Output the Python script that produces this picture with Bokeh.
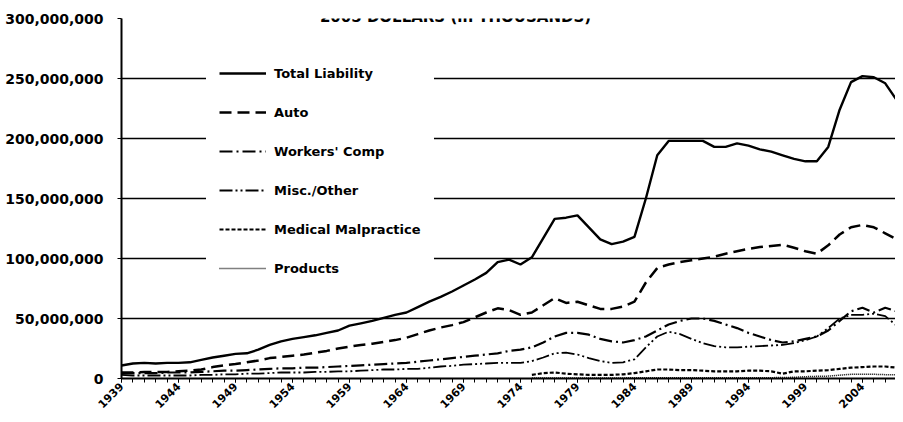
import math
import numpy as np
from bokeh.plotting import figure
from bokeh.models import Range1d, FixedTicker, NumeralTickFormatter, Legend, LegendItem, Label
from bokeh.embed import file_html
from bokeh.resources import INLINE

title_text = "2005 DOLLARS (in THOUSANDS)"
years = list(range(1939, 2009))
tick_years = list(range(1939, 2005, 5))

# values in millions
total_liability = [10.8, 12.5, 13, 12.5, 13, 13, 13.5, 15.5, 17.5, 19,
                   20.5, 21, 24, 28, 31, 33, 34.5, 36, 38, 40,
                   44, 46, 48, 50.5, 53, 55, 59.5, 64, 68, 72.5,
                   77.5, 82.5, 88, 97, 99, 95, 101, 117, 133, 134,
                   136, 126, 116, 112, 114, 118, 150, 186, 198, 198,
                   198, 198, 193, 193, 196, 194, 191, 189, 186, 183,
                   181, 181, 193, 224, 247, 252, 251, 246, 232, 205]
auto = [5, 5, 5.5, 5.5, 5.5, 6, 6.5, 7.5, 9.5, 11,
        12, 13.5, 15, 17, 18, 19, 20, 21.5, 23, 25,
        26.5, 28, 29, 30.5, 32, 34, 37, 40, 42.5, 44.5,
        47, 51, 55, 58.5, 57, 53, 55, 61, 67, 63,
        64, 61, 58, 58, 60, 64, 80, 92, 95, 97,
        98.5, 100, 101.5, 104, 106, 108, 109.5, 110.5, 111.5, 109,
        106, 104, 111, 120, 126, 128, 126, 121, 116, 110]
workers_comp = [4.5, 4.5, 4.5, 4.5, 5, 5, 5, 5.5, 6, 6.5,
                6.5, 7, 7.5, 8, 8.5, 8.5, 9, 9, 9.5, 10,
                10.5, 11, 11.5, 12, 12.5, 13, 14, 15, 16, 17,
                18, 19, 20, 21, 23, 24, 26, 30, 35, 38,
                38, 36.5, 33, 31, 30, 32, 35, 40, 45, 48,
                50, 50, 48, 45, 42, 38, 35, 32, 30, 31,
                33, 35, 40, 48, 56, 59, 55, 59, 56, 52]
misc_other = [3, 2.5, 2.5, 2.5, 2.5, 2.5, 2.5, 3, 3, 3.5,
              3.5, 4, 4, 4.5, 5, 5, 5, 5.5, 5.5, 6,
              6, 6.5, 7, 7.5, 7.5, 8, 8, 9, 10, 10.5,
              11.5, 12, 12.5, 13, 13, 13, 14.5, 17.5, 21, 21.5,
              20, 17, 14.5, 13, 13.5, 16, 26, 35, 39, 37,
              33, 29.5, 27, 26, 26, 26.5, 27, 27.5, 28, 29.5,
              32, 35, 42, 50, 53, 53, 54, 52, 44, 38]
medical_malpractice = [None] * 36 + [
    3, 4.5, 5, 4, 3.5, 3, 3, 3, 3.5, 4.5,
    6, 7.5, 7.5, 7, 7, 6.5, 6, 6, 6, 6.5,
    6.5, 6, 4, 6, 6, 6.5, 7, 8, 9, 9.5,
    10, 10, 9, 8.5]
products = [None] * 36 + [
    0.5, 0.5, 0.5, 0.5, 0.5, 0.5, 0.5, 0.5, 0.5, 0.6,
    0.7, 0.7, 0.7, 0.6, 0.6, 0.6, 0.6, 0.6, 0.6, 0.6,
    0.6, 0.7, 0.8, 1, 1.5, 1.8, 2, 2.8, 3.5, 3.5,
    3.5, 3.2, 3, 2.8]

series = [
    ("Total Liability", total_liability, "solid", 2.4),
    ("Auto", auto, "12 6", 2.5),
    ("Workers' Comp", workers_comp, "13 4 2 4", 2.2),
    ("Misc./Other", misc_other, "13 3 2 3 2 3", 1.8),
    ("Medical Malpractice", medical_malpractice, "4 2", 2.2),
    ("Products", products, "1 1", 1.5),
]

FONT = "DejaVu Sans"

p = figure(width=895, height=414, output_backend="svg", toolbar_location=None,
           x_range=Range1d(1939, 2006.9), y_range=Range1d(0, 300e6),
           min_border_left=121, min_border_right=0, min_border_top=18, min_border_bottom=35)
p.outline_line_color = None
p.background_fill_color = "white"
p.border_fill_color = "white"

p.xgrid.grid_line_color = None
p.ygrid.grid_line_color = "black"
p.ygrid.grid_line_width = 1.5

# axes
p.yaxis.ticker = FixedTicker(ticks=[0, 50e6, 100e6, 150e6, 200e6, 250e6, 300e6])
p.yaxis.formatter = NumeralTickFormatter(format="0,0")
p.yaxis.axis_line_width = 2
p.yaxis.axis_line_color = "black"
p.yaxis.major_tick_out = 4
p.yaxis.major_tick_in = 0
p.yaxis.minor_tick_line_color = None
p.yaxis.major_label_standoff = 14
p.yaxis.major_label_text_font = FONT
p.yaxis.major_label_text_font_style = "bold"
p.yaxis.major_label_text_font_size = "14px"
p.yaxis.major_label_text_color = "black"

p.xaxis.ticker = FixedTicker(ticks=tick_years, minor_ticks=years)
p.xaxis.axis_line_width = 2
p.xaxis.axis_line_color = "black"
p.xaxis.major_tick_out = 4
p.xaxis.major_tick_in = 0
p.xaxis.minor_tick_out = 4
p.xaxis.minor_tick_in = 0
p.xaxis.minor_tick_line_color = "black"
p.xaxis.major_label_orientation = math.pi / 4
p.xaxis.major_label_standoff = 2
p.xaxis.major_label_text_font = FONT
p.xaxis.major_label_text_font_style = "bold"
p.xaxis.major_label_text_font_size = "11px"
p.xaxis.major_label_text_color = "black"

items = []
for name, vals, dash, w in series:
    y = np.array(vals, dtype=float) * 1e6
    r = p.line(years, y, line_color="black", line_width=w, line_dash=dash)
    items.append(LegendItem(label=name, renderers=[r]))

legend = Legend(items=items, location=(85, 87), padding=12, spacing=19,
                label_height=20, glyph_height=20, glyph_width=47, label_standoff=8,
                margin=0, background_fill_color="white", background_fill_alpha=1.0,
                border_line_color="white", border_line_width=1,
                label_text_font=FONT,
                label_text_font_style="bold", label_text_font_size="13px",
                label_text_color="black")
p.add_layout(legend)

title = Label(x=1939, y=300e6, x_offset=334, y_offset=2, text=title_text,
              text_align="center", text_baseline="alphabetic",
              text_font=FONT, text_font_style="bold", text_font_size="15px",
              text_color="black")
p.add_layout(title)

open("out.html", "w").write(file_html(p, INLINE))
